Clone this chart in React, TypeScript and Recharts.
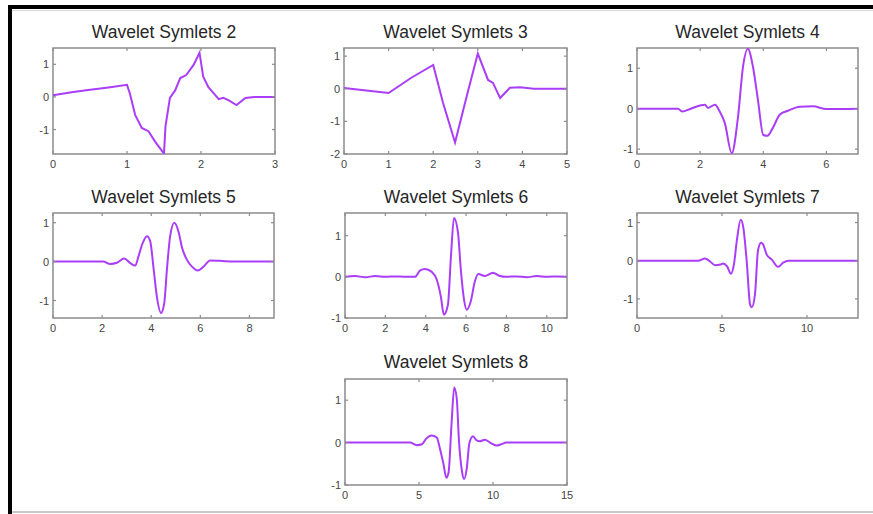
import { LineChart, Line, XAxis, YAxis, ReferenceArea } from 'recharts';

const LINE_COLOR = '#aa3ef8';
const FRAME_COLOR = '#8c8c8c';
const LABEL_COLOR = '#454545';
const FONT = '"Liberation Sans", Arial, sans-serif';

// Symlets 2
const sym2X = [0, 0.25, 0.5, 0.75, 1.0, 1.04, 1.11, 1.2, 1.29, 1.38, 1.5, 1.52, 1.58, 1.65, 1.72, 1.8, 1.9, 1.98, 2.03, 2.1, 2.19, 2.24, 2.3, 2.37, 2.48, 2.6, 2.72, 2.86, 3];
const sym2Y = [0.05, 0.14, 0.22, 0.29, 0.37, 0.1, -0.55, -0.95, -1.05, -1.37, -1.74, -0.9, -0.03, 0.2, 0.58, 0.67, 0.98, 1.35, 0.62, 0.3, 0.06, -0.07, -0.03, -0.1, -0.25, -0.03, 0.0, 0.0, 0];

// Symlets 3
const sym3X = [0, 0.5, 1.0, 1.5, 2.0, 2.22, 2.49, 2.75, 3.0, 3.23, 3.34, 3.5, 3.72, 3.95, 4.25, 5];
const sym3Y = [0.02, -0.05, -0.13, 0.33, 0.73, -0.43, -1.65, -0.24, 1.08, 0.27, 0.18, -0.28, 0.03, 0.05, 0.0, 0.0];

// Symlets 4
const sym4X = [0, 1.3, 1.43, 1.7, 2.0, 2.15, 2.25, 2.47, 2.62, 2.78, 3.0, 3.2, 3.36, 3.51, 3.67, 3.83, 4.0, 4.13, 4.3, 4.52, 4.78, 5.16, 5.57, 6.0, 7];
const sym4Y = [0, 0, -0.07, 0.0, 0.08, 0.1, 0.02, 0.1, -0.07, -0.35, -1.1, -0.2, 1.05, 1.48, 1.05, 0.22, -0.65, -0.67, -0.48, -0.15, -0.05, 0.05, 0.06, -0.01, 0];

// Symlets 5
const sym5X = [0, 1.5, 2.05, 2.33, 2.6, 2.9, 3.15, 3.35, 3.48, 3.63, 3.83, 3.96, 4.1, 4.23, 4.4, 4.53, 4.64, 4.77, 4.94, 5.12, 5.25, 5.45, 5.66, 5.9, 6.13, 6.4, 6.8, 7.4, 9];
const sym5Y = [0, 0, 0, -0.06, -0.03, 0.08, -0.04, -0.1, 0.13, 0.44, 0.65, 0.52, -0.2, -0.9, -1.32, -1.07, -0.2, 0.65, 1.0, 0.75, 0.37, 0.05, -0.13, -0.23, -0.13, 0.03, 0.02, 0, 0];

// Symlets 6
const sym6X = [0, 0.5, 1.0, 1.5, 2.0, 2.5, 3.0, 3.47, 3.71, 3.96, 4.3, 4.55, 4.75, 4.9, 5.1, 5.25, 5.4, 5.6, 5.74, 5.9, 6.03, 6.23, 6.43, 6.6, 6.93, 7.33, 7.67, 8.0, 8.5, 9.0, 9.5, 10.0, 10.5, 11];
const sym6Y = [0, 0.02, -0.01, 0.02, 0, 0.01, 0, 0, 0.15, 0.19, 0.12, -0.07, -0.48, -0.92, -0.68, 0.5, 1.43, 1.07, 0.17, -0.56, -0.8, -0.6, -0.12, 0.07, 0.02, 0.1, 0.02, 0, 0.01, -0.01, 0.02, 0, 0.01, 0];

// Symlets 7
const sym7X = [0, 3.6, 4.0, 4.3, 4.6, 4.9, 5.07, 5.3, 5.53, 5.7, 5.88, 6.1, 6.25, 6.46, 6.65, 6.75, 6.94, 7.12, 7.3, 7.4, 7.63, 7.93, 8.3, 8.6, 8.9, 13];
const sym7Y = [0, 0, 0.06, -0.02, -0.12, -0.1, -0.07, -0.15, -0.34, -0.1, 0.55, 1.07, 0.88, -0.05, -1.14, -1.22, -0.88, 0.28, 0.47, 0.44, 0.16, 0.03, -0.16, -0.05, 0, 0];

// Symlets 8
const sym8X = [0, 4.4, 4.85, 5.2, 5.5, 5.85, 6.2, 6.4, 6.65, 6.85, 7.0, 7.2, 7.38, 7.55, 7.7, 7.9, 8.05, 8.23, 8.4, 8.65, 8.9, 9.1, 9.45, 9.8, 10.25, 10.55, 10.9, 15];
const sym8Y = [0, 0, -0.06, -0.04, 0.1, 0.17, 0.12, -0.12, -0.5, -0.83, -0.7, 0.45, 1.3, 1.04, 0.05, -0.67, -0.86, -0.6, -0.02, 0.15, 0.05, 0.03, 0.07, 0, -0.07, -0.04, 0, 0];

type Panel = {
  title: string;
  xs: number[];
  ys: number[];
  xDomain: [number, number];
  yDomain: [number, number];
  xTicks: number[];
  yTicks: number[];
  curve: 'linear' | 'monotone';
  // plot box in page pixels
  left: number;
  right: number;
  top: number;
  bottom: number;
  titleTop: number;
};

const PANELS: Panel[] = [
  { title: 'Wavelet Symlets 2', xs: sym2X, ys: sym2Y, xDomain: [0, 3], yDomain: [-1.75, 1.5], xTicks: [0, 1, 2, 3], yTicks: [-1, 0, 1], curve: 'linear', left: 53, right: 275, top: 48, bottom: 154, titleTop: 22 },
  { title: 'Wavelet Symlets 3', xs: sym3X, ys: sym3Y, xDomain: [0, 5], yDomain: [-2, 1.25], xTicks: [0, 1, 2, 3, 4, 5], yTicks: [-2, -1, 0, 1], curve: 'linear', left: 344, right: 567, top: 48, bottom: 154, titleTop: 22 },
  { title: 'Wavelet Symlets 4', xs: sym4X, ys: sym4Y, xDomain: [0, 7], yDomain: [-1.12, 1.5], xTicks: [0, 2, 4, 6], yTicks: [-1, 0, 1], curve: 'monotone', left: 637, right: 858, top: 48, bottom: 154, titleTop: 22 },
  { title: 'Wavelet Symlets 5', xs: sym5X, ys: sym5Y, xDomain: [0, 9], yDomain: [-1.45, 1.25], xTicks: [0, 2, 4, 6, 8], yTicks: [-1, 0, 1], curve: 'monotone', left: 53, right: 274, top: 213, bottom: 318, titleTop: 187 },
  { title: 'Wavelet Symlets 6', xs: sym6X, ys: sym6Y, xDomain: [0, 11], yDomain: [-1, 1.55], xTicks: [0, 2, 4, 6, 8, 10], yTicks: [-1, 0, 1], curve: 'monotone', left: 345, right: 567, top: 213, bottom: 318, titleTop: 187 },
  { title: 'Wavelet Symlets 7', xs: sym7X, ys: sym7Y, xDomain: [0, 13], yDomain: [-1.5, 1.25], xTicks: [0, 5, 10], yTicks: [-1, 0, 1], curve: 'monotone', left: 637, right: 858, top: 213, bottom: 318, titleTop: 187 },
  { title: 'Wavelet Symlets 8', xs: sym8X, ys: sym8Y, xDomain: [0, 15], yDomain: [-1, 1.5], xTicks: [0, 5, 10, 15], yTicks: [-1, 0, 1], curve: 'monotone', left: 345, right: 567, top: 379, bottom: 485, titleTop: 352 },
];

const Y_AXIS_W = 34;
const X_AXIS_H = 22;
const PAD = 4;
const RIGHT_PAD = 14;
const TICK_MARGIN = 4;
const TICK_LEN = 3;

function WaveletPanel({ p }: { p: Panel }) {
  const plotW = p.right - p.left;
  const plotH = p.bottom - p.top;
  const data = p.xs.map((x, i) => ({ x, y: p.ys[i] }));

  const renderXTick = (props: any) => {
    const { x, y, payload } = props;
    const axisY = y - TICK_MARGIN;
    return (
      <g>
        <line x1={x} x2={x} y1={axisY} y2={axisY - TICK_LEN} stroke={FRAME_COLOR} strokeWidth={1.2} />
        <line x1={x} x2={x} y1={axisY - plotH} y2={axisY - plotH + TICK_LEN} stroke={FRAME_COLOR} strokeWidth={1.2} />
        <text x={x} y={axisY + 14} textAnchor="middle" fontSize={11} fill={LABEL_COLOR} fontFamily={FONT}>
          {String(payload.value)}
        </text>
      </g>
    );
  };

  const renderYTick = (props: any) => {
    const { x, y, payload } = props;
    const axisX = x + TICK_MARGIN;
    return (
      <g>
        <line x1={axisX} x2={axisX + TICK_LEN} y1={y} y2={y} stroke={FRAME_COLOR} strokeWidth={1.2} />
        <line x1={axisX + plotW} x2={axisX + plotW - TICK_LEN} y1={y} y2={y} stroke={FRAME_COLOR} strokeWidth={1.2} />
        <text x={axisX - 4} y={y + 4} textAnchor="end" fontSize={11} fill={LABEL_COLOR} fontFamily={FONT}>
          {String(payload.value)}
        </text>
      </g>
    );
  };

  return (
    <>
      <div
        style={{
          position: 'absolute',
          left: p.left,
          width: plotW,
          top: p.titleTop,
          textAlign: 'center',
          fontFamily: FONT,
          fontSize: 17.5,
          lineHeight: '20px',
          color: '#262626',
          whiteSpace: 'nowrap',
        }}
      >
        {p.title}
      </div>
      <div style={{ position: 'absolute', left: p.left - Y_AXIS_W, top: p.top - PAD }}>
        <LineChart
          width={Y_AXIS_W + plotW + RIGHT_PAD}
          height={PAD + plotH + X_AXIS_H}
          data={data}
          margin={{ top: PAD, right: RIGHT_PAD, bottom: 0, left: 0 }}
        >
          <XAxis
            type="number"
            dataKey="x"
            domain={p.xDomain}
            ticks={p.xTicks}
            interval={0}
            allowDataOverflow
            height={X_AXIS_H}
            axisLine={false}
            tickLine={false}
            tickSize={0}
            tickMargin={TICK_MARGIN}
            tick={renderXTick}
          />
          <YAxis
            type="number"
            dataKey="y"
            domain={p.yDomain}
            ticks={p.yTicks}
            interval={0}
            allowDataOverflow
            width={Y_AXIS_W}
            axisLine={false}
            tickLine={false}
            tickSize={0}
            tickMargin={TICK_MARGIN}
            tick={renderYTick}
          />
          <Line
            type={p.curve}
            dataKey="y"
            stroke={LINE_COLOR}
            strokeWidth={2}
            dot={false}
            activeDot={false}
            isAnimationActive={false}
          />
          <ReferenceArea
            x1={p.xDomain[0]}
            x2={p.xDomain[1]}
            y1={p.yDomain[0]}
            y2={p.yDomain[1]}
            fill="none"
            stroke={FRAME_COLOR}
            strokeWidth={1.5}
            ifOverflow="visible"
          />
        </LineChart>
      </div>
    </>
  );
}

export default function App() {
  return (
    <div style={{ position: 'absolute', left: 0, top: 0, width: 873, height: 514, background: '#fff', overflow: 'hidden' }}>
      <div style={{ position: 'absolute', left: 8, top: 5, width: 4, height: 509, background: '#000' }} />
      <div style={{ position: 'absolute', left: 8, top: 5, width: 865, height: 4, background: '#000' }} />
      <div style={{ position: 'absolute', left: 12, top: 10, width: 861, height: 1, background: '#d8d8d8' }} />
      <div style={{ position: 'absolute', left: 12, top: 511, width: 861, height: 2, background: '#c8c8c8' }} />
      {PANELS.map((p) => (
        <WaveletPanel key={p.title} p={p} />
      ))}
    </div>
  );
}
